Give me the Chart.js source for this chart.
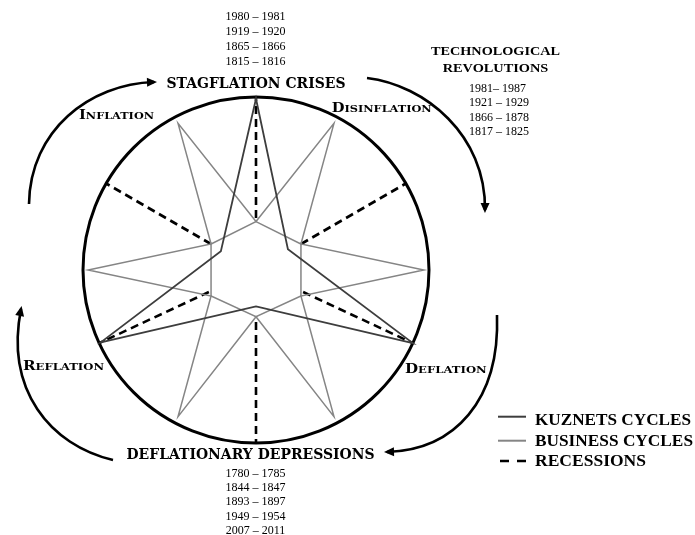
<!DOCTYPE html>
<html>
<head>
<meta charset="utf-8">
<script src="https://cdn.jsdelivr.net/npm/chart.js@4.4.0/dist/chart.umd.min.js"></script>
<style>
  html, body { margin: 0; padding: 0; background: #fff; }
  #wrap { width: 695px; height: 535px; position: relative; }
</style>
</head>
<body>
<div id="wrap"><canvas id="cycles"></canvas></div>
<script>
// one radar slot per degree, 0 = top, clockwise
const DEGREES = 360;

// business cycles: inner / outer points of the six-point star (radius in % of the circle)
const businessAngles = [0, 28, 60, 90, 120, 152, 180, 208, 240, 270, 300, 332];
const businessValues = [28, 96, 30, 97, 30, 96, 27, 96, 30, 97, 30, 96];

// kuznets cycles: three-point star
const kuznetsAngles = [0, 57, 115, 180, 245, 298];
const kuznetsValues = [99, 22, 100, 21, 99, 23];

// recessions: dashed spokes
const recessionAngles = [0, 60, 115, 180, 245, 300];

const phases = ["Inflation", "Disinflation", "Deflation", "Reflation"];
const crisisTitle = "STAGFLATION CRISES";
const depressionTitle = "DEFLATIONARY DEPRESSIONS";
const revolutionTitle = ["TECHNOLOGICAL", "REVOLUTIONS"];

const stagflationYears = ["1980 – 1981", "1919 – 1920", "1865 – 1866", "1815 – 1816"];
const revolutionYears = ["1981– 1987", "1921 – 1929", "1866 – 1878", "1817 – 1825"];
const depressionYears = ["1780 – 1785", "1844 – 1847", "1893 – 1897", "1949 – 1954", "2007 – 2011"];

const legendLabels = ["KUZNETS CYCLES", "BUSINESS CYCLES", "RECESSIONS"];

// inner ring of the business star = every other point
const innerAngles = businessAngles.filter((_, i) => i % 2 === 0);
const innerValues = businessValues.filter((_, i) => i % 2 === 0);

function toRadar(angles, values) {
  const out = new Array(DEGREES).fill(null);
  angles.forEach((a, i) => { out[a] = values[i]; });
  return out;
}

const KUZ_COLOR = "#3d3d3d";
const BUS_COLOR = "#858585";

function fitText(ctx, text, x, y, width, font, align) {
  ctx.save();
  ctx.font = font;
  const w = ctx.measureText(text).width;
  const left = align === "center" ? x - width / 2 : x;
  ctx.translate(left, y);
  ctx.scale(width / w, 1);
  ctx.textAlign = "left";
  ctx.textBaseline = "alphabetic";
  ctx.fillText(text, 0, 0);
  ctx.restore();
}

function smallCaps(ctx, word, x, y, width) {
  const big = 'bold 13px "DejaVu Serif"';
  const small = 'bold 10px "DejaVu Serif"';
  const first = word[0];
  const rest = word.slice(1).toUpperCase();
  ctx.save();
  ctx.font = big;
  const w1 = ctx.measureText(first).width;
  ctx.font = small;
  const w2 = ctx.measureText(rest).width;
  ctx.translate(x, y);
  ctx.scale(width / (w1 + w2), 1);
  ctx.textAlign = "left";
  ctx.textBaseline = "alphabetic";
  ctx.font = big;
  ctx.fillText(first, 0, 0);
  ctx.font = small;
  ctx.fillText(rest, w1, 0);
  ctx.restore();
}

function drawArrow(ctx, p) {
  const [p0, p1, p2, p3] = p;
  ctx.beginPath();
  ctx.moveTo(p0[0], p0[1]);
  ctx.bezierCurveTo(p1[0], p1[1], p2[0], p2[1], p3[0], p3[1]);
  ctx.stroke();
  let dx = p3[0] - p2[0], dy = p3[1] - p2[1];
  const len = Math.hypot(dx, dy);
  dx /= len; dy /= len;
  const tip = [p3[0] + dx * 3, p3[1] + dy * 3];
  const base = [p3[0] - dx * 7, p3[1] - dy * 7];
  ctx.beginPath();
  ctx.moveTo(tip[0], tip[1]);
  ctx.lineTo(base[0] - dy * 4.5, base[1] + dx * 4.5);
  ctx.lineTo(base[0] + dy * 4.5, base[1] - dx * 4.5);
  ctx.closePath();
  ctx.fill();
}

const annotations = {
  id: "annotations",
  afterDraw(chart) {
    const ctx = chart.ctx;
    ctx.save();
    ctx.fillStyle = "#000";
    ctx.strokeStyle = "#000";
    ctx.lineWidth = 2.6;
    ctx.lineCap = "butt";

    // cycle arrows around the circle
    [
      [[29, 204], [30, 130], [90, 84], [154, 82]],
      [[367, 78], [425, 85], [486, 135], [485, 210]],
      [[497, 315], [500, 400], [455, 450], [387, 452]],
      [[113, 460], [50, 445], [5, 390], [21, 309]]
    ].forEach(a => drawArrow(ctx, a));

    const head = 'bold 15px "DejaVu Serif"';
    fitText(ctx, crisisTitle, 166.5, 87.5, 179, head);
    fitText(ctx, depressionTitle, 126.5, 458.8, 248, head);

    smallCaps(ctx, phases[0], 79, 119.3, 75);
    smallCaps(ctx, phases[1], 331.7, 112.3, 100);
    smallCaps(ctx, phases[2], 405, 373.3, 81.7);
    smallCaps(ctx, phases[3], 23, 370, 81);

    const tech = 'bold 13.5px "Liberation Serif"';
    fitText(ctx, revolutionTitle[0], 495.5, 55.3, 129, tech, "center");
    fitText(ctx, revolutionTitle[1], 495.5, 71.7, 105.7, tech, "center");

    ctx.font = '12px "Liberation Serif"';
    ctx.textBaseline = "alphabetic";
    ctx.textAlign = "center";
    stagflationYears.forEach((t, i) => ctx.fillText(t, 255.5, 20 + 15 * i));
    depressionYears.forEach((t, i) => ctx.fillText(t, 255.5, 476.5 + 14.45 * i));
    ctx.textAlign = "left";
    revolutionYears.forEach((t, i) => ctx.fillText(t, 469, 91.5 + 14.5 * i));

    // legend
    const legY = [416.7, 440.7, 461];
    const legBase = [425, 445.7, 465.7];
    const legW = [156, 158, 111];
    const ds = chart.data.datasets;
    [ds[0].borderColor, ds[1].borderColor].forEach((c, i) => {
      ctx.strokeStyle = c;
      ctx.lineWidth = 2;
      ctx.beginPath();
      ctx.moveTo(498, legY[i]);
      ctx.lineTo(526, legY[i]);
      ctx.stroke();
    });
    ctx.strokeStyle = "#000";
    ctx.lineWidth = 2.6;
    ctx.setLineDash([9, 8]);
    ctx.beginPath();
    ctx.moveTo(500, legY[2]);
    ctx.lineTo(527, legY[2]);
    ctx.stroke();
    ctx.setLineDash([]);
    const legFont = 'bold 17px "Liberation Serif"';
    legendLabels.forEach((t, i) => fitText(ctx, t, 535, legBase[i], legW[i], legFont));

    ctx.restore();
  }
};

new Chart(document.getElementById("cycles"), {
  type: "radar",
  data: {
    labels: Array.from({ length: DEGREES }, (_, i) => i + "°"),
    datasets: [
      {
        label: legendLabels[0],
        data: toRadar(kuznetsAngles, kuznetsValues),
        borderColor: KUZ_COLOR,
        borderWidth: 1.8,
        fill: false,
        order: 1
      },
      {
        label: legendLabels[1],
        data: toRadar(businessAngles, businessValues),
        borderColor: BUS_COLOR,
        borderWidth: 1.5,
        fill: false,
        order: 2
      },
      {
        label: legendLabels[1] + " core",
        data: toRadar(innerAngles, innerValues),
        borderColor: BUS_COLOR,
        borderWidth: 1.5,
        fill: "origin",
        backgroundColor: "#ffffff",
        order: 3
      }
    ]
  },
  options: {
    responsive: true,
    maintainAspectRatio: false,
    animation: false,
    events: [],
    spanGaps: true,
    layout: { padding: { left: 83, right: 266, top: 97, bottom: 92 } },
    elements: {
      point: { radius: 0, hoverRadius: 0 },
      line: { tension: 0 }
    },
    plugins: {
      legend: { display: false },
      tooltip: { enabled: false }
    },
    scales: {
      r: {
        min: 0,
        max: 100,
        ticks: { display: false, stepSize: 100 },
        pointLabels: { display: false },
        grid: { circular: true, color: "#000", lineWidth: 3 },
        angleLines: {
          color: "#000",
          lineWidth: c => recessionAngles.includes(c.index) ? 2.6 : 0,
          borderDash: [8, 5]
        }
      }
    }
  },
  plugins: [annotations]
});
</script>
</body>
</html>
